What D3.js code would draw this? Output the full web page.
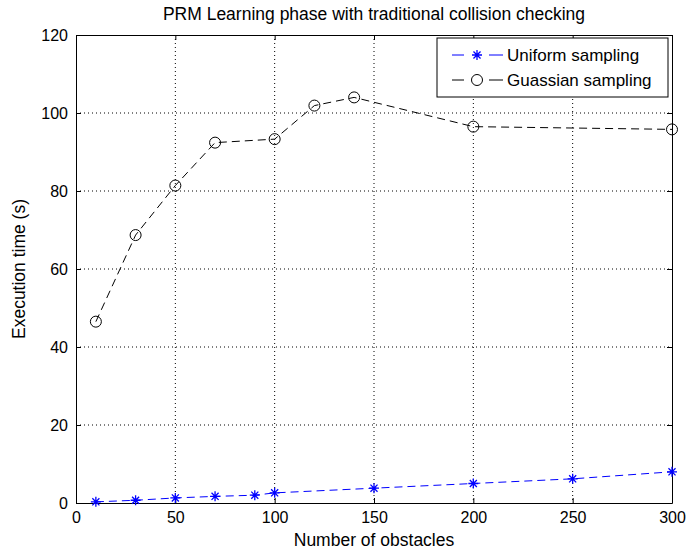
<!DOCTYPE html>
<html>
<head>
<meta charset="utf-8">
<script src="https://cdn.jsdelivr.net/npm/d3@7"></script>
<style>
	body { margin: 0; background: #fff; }
	text { font-family: "Liberation Sans", Arial, sans-serif; fill: #000; }
</style>
</head>
<body>
<svg id="chart" width="689" height="554"></svg>
<script>
// data
var uniformX = [10, 30, 50, 70, 90, 100, 150, 200, 250, 300];
var uniformY = [0.3, 0.7, 1.3, 1.7, 2.0, 2.6, 3.8, 5.0, 6.2, 8.0];
var gaussX = [10, 30, 50, 70, 100, 120, 140, 200, 300];
var gaussY = [46.5, 68.7, 81.4, 92.4, 93.3, 101.9, 104, 96.5, 95.8];
var xTicks = [0, 50, 100, 150, 200, 250, 300];
var yTicks = [0, 20, 40, 60, 80, 100, 120];
var seriesNames = ["Uniform sampling", "Guassian sampling"];

var svg = d3.select("#chart");
var plotLeft = 76, plotRight = 672, plotTop = 35, plotBottom = 503;

var x = d3.scaleLinear().domain([0, 300]).range([plotLeft, plotRight]);
var y = d3.scaleLinear().domain([0, 120]).range([plotBottom, plotTop]);

// grid
var grid = svg.append("g");
grid.selectAll("line.gx").data(xTicks.slice(1, -1)).enter().append("line")
	.attr("x1", function(d){ return x(d); }).attr("x2", function(d){ return x(d); })
	.attr("y1", plotTop).attr("y2", plotBottom)
	.attr("stroke", "#000").attr("stroke-width", 1).attr("stroke-dasharray", "1,3");
grid.selectAll("line.gy").data(yTicks.slice(1, -1)).enter().append("line")
	.attr("y1", function(d){ return y(d); }).attr("y2", function(d){ return y(d); })
	.attr("x1", plotLeft).attr("x2", plotRight)
	.attr("stroke", "#000").attr("stroke-width", 1).attr("stroke-dasharray", "1,3");

// axes (ticks inward, box)
var fs = "16px";
var xAxis = svg.append("g").attr("transform", "translate(0," + plotBottom + ")")
	.call(d3.axisBottom(x).tickValues(xTicks).tickSizeInner(-5).tickSizeOuter(0).tickPadding(9));
var xTop = svg.append("g").attr("transform", "translate(0," + plotTop + ")")
	.call(d3.axisTop(x).tickValues(xTicks).tickSizeInner(-5).tickSizeOuter(0).tickFormat(""));
var yAxis = svg.append("g").attr("transform", "translate(" + plotLeft + ",0)")
	.call(d3.axisLeft(y).tickValues(yTicks).tickSizeInner(-5).tickSizeOuter(0).tickPadding(8));
var yRight = svg.append("g").attr("transform", "translate(" + plotRight + ",0)")
	.call(d3.axisRight(y).tickValues(yTicks).tickSizeInner(-5).tickSizeOuter(0).tickFormat(""));
[xAxis, xTop, yAxis, yRight].forEach(function(a){
	a.selectAll("path").attr("stroke", "#000").attr("stroke-width", 1);
	a.selectAll("line").attr("stroke", "#000");
	a.selectAll("text").style("font-size", fs).attr("fill", "#000");
});

// lines
var line = d3.line().x(function(d){ return x(d[0]); }).y(function(d){ return y(d[1]); });
var uniform = uniformX.map(function(v, i){ return [v, uniformY[i]]; });
var gauss = gaussX.map(function(v, i){ return [v, gaussY[i]]; });

var starPath = function(cx, cy, r){
	var d = "";
	[0, 45, 90, 135].forEach(function(a){
		var rad = a * Math.PI / 180;
		d += "M" + (cx - r * Math.cos(rad)) + "," + (cy - r * Math.sin(rad)) +
			"L" + (cx + r * Math.cos(rad)) + "," + (cy + r * Math.sin(rad));
	});
	return d;
};

svg.append("path").attr("d", line(gauss)).attr("fill", "none")
	.attr("stroke", "#000").attr("stroke-width", 1).attr("stroke-dasharray", "8,5");
svg.append("g").selectAll("circle").data(gauss).enter().append("circle")
	.attr("cx", function(d){ return x(d[0]); }).attr("cy", function(d){ return y(d[1]); })
	.attr("r", 5.5).attr("fill", "none").attr("stroke", "#000").attr("stroke-width", 1);

svg.append("path").attr("d", line(uniform)).attr("fill", "none")
	.attr("stroke", "#0000ff").attr("stroke-width", 1).attr("stroke-dasharray", "8,5");
svg.append("g").selectAll("path").data(uniform).enter().append("path")
	.attr("d", function(d){ return starPath(x(d[0]), y(d[1]), 5); })
	.attr("stroke", "#0000ff").attr("stroke-width", 1.3);

// legend
var lg = svg.append("g");
lg.append("rect").attr("x", 437).attr("y", 38).attr("width", 231).attr("height", 59)
	.attr("fill", "#fff").attr("stroke", "#000").attr("stroke-width", 1);
var rows = [
	{ color: "#0000ff", marker: "star", yy: 55 },
	{ color: "#000", marker: "circle", yy: 80 }
];
rows.forEach(function(r, i){
	lg.append("line").attr("x1", 452).attr("x2", 464).attr("y1", r.yy).attr("y2", r.yy)
		.attr("stroke", r.color);
	lg.append("line").attr("x1", 489).attr("x2", 503).attr("y1", r.yy).attr("y2", r.yy)
		.attr("stroke", r.color);
	if(r.marker == "star"){
		lg.append("path").attr("d", starPath(477, r.yy, 5)).attr("stroke", r.color).attr("stroke-width", 1.3);
	}else{
		lg.append("circle").attr("cx", 477).attr("cy", r.yy).attr("r", 5.5)
			.attr("fill", "none").attr("stroke", r.color);
	}
	lg.append("text").attr("x", 507).attr("y", r.yy).attr("dy", "0.35em")
		.style("font-size", "17px").text(seriesNames[i]);
});

// titles
svg.append("text").attr("x", (plotLeft + plotRight) / 2).attr("y", 20).attr("text-anchor", "middle")
	.style("font-size", "17.5px").text("PRM Learning phase with traditional collision checking");
svg.append("text").attr("x", (plotLeft + plotRight) / 2).attr("y", 546).attr("text-anchor", "middle")
	.style("font-size", "17.5px").text("Number of obstacles");
svg.append("text").attr("transform", "translate(25," + (plotTop + plotBottom) / 2 + ") rotate(-90)")
	.attr("text-anchor", "middle").style("font-size", "17.5px").text("Execution time (s)");
</script>
</body>
</html>
